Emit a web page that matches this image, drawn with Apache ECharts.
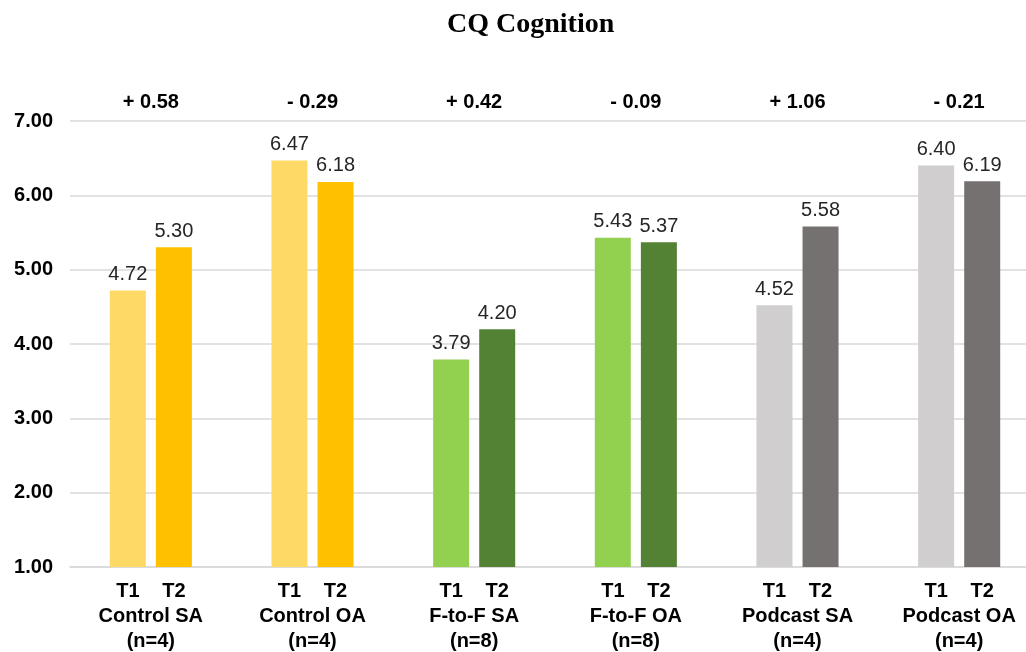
<!DOCTYPE html>
<html>
<head>
<meta charset="utf-8">
<script src="https://cdn.jsdelivr.net/npm/echarts@6/dist/echarts.min.js"></script>
<style>
  html, body { margin: 0; padding: 0; background: #fff; }
  #chart { width: 1026px; height: 652px; }
</style>
</head>
<body>
<div id="chart"></div>
<script>
// Groups shown along the category axis
const groups = ['Control SA', 'Control OA', 'F-to-F SA', 'F-to-F OA', 'Podcast SA', 'Podcast OA'];
const sampleSizes = ['(n=4)', '(n=4)', '(n=8)', '(n=8)', '(n=4)', '(n=4)'];
// Mean scores at the two time points
const t1Values = [4.72, 6.47, 3.79, 5.43, 4.52, 6.40];
const t2Values = [5.30, 6.18, 4.20, 5.37, 5.58, 6.19];
// Change from T1 to T2 printed above each group
const changeLabels = ['+ 0.58', '- 0.29', '+ 0.42', '- 0.09', '+ 1.06', '- 0.21'];
// Bar colours per group
const t1Colors = ['#FFD966', '#FFD966', '#92D050', '#92D050', '#D0CECE', '#D0CECE'];
const t2Colors = ['#FFC000', '#FFC000', '#548235', '#548235', '#767171', '#767171'];
// Value axis range
const yMin = 1, yMax = 7, yStep = 1;

const FONT = 'Liberation Sans, Arial, sans-serif';

const chart = echarts.init(document.getElementById('chart'));

const valueLabel = {
  show: true,
  position: 'top',
  distance: 6,
  fontFamily: FONT,
  fontSize: 20,
  color: '#262626',
  formatter: p => p.value.toFixed(2)
};

chart.setOption({
  animation: false,
  backgroundColor: '#ffffff',
  title: {
    text: 'CQ Cognition',
    left: 442,
    top: 6,
    textStyle: { fontFamily: 'Liberation Serif, Times New Roman, serif', fontWeight: 'bold', fontSize: 28, color: '#000' }
  },
  // the last group runs a little past the right edge of the canvas
  grid: { left: 70, width: 970, top: 121, height: 446, outerBoundsMode: 'none' },
  xAxis: [
    {
      type: 'category',
      data: groups,
      position: 'bottom',
      axisLine: { lineStyle: { color: '#d9d9d9', width: 1.5 } },
      axisTick: { show: false },
      axisLabel: {
        margin: 12,
        interval: 0,
        fontFamily: FONT,
        fontSize: 20,
        fontWeight: 'bold',
        color: '#000',
        lineHeight: 25,
        formatter: (v, i) => '{t|T1}{t|T2}\n{g|' + v + '}\n{g|' + sampleSizes[i] + '}',
        rich: {
          t: { width: 46, align: 'center', fontFamily: FONT, fontSize: 20, fontWeight: 'bold', color: '#000', lineHeight: 25 },
          g: { fontFamily: FONT, fontSize: 20, fontWeight: 'bold', color: '#000', lineHeight: 25 }
        }
      }
    },
    {
      type: 'category',
      data: groups,
      position: 'top',
      axisLine: { show: false },
      axisTick: { show: false },
      axisLabel: {
        margin: 9,
        interval: 0,
        fontFamily: FONT,
        fontSize: 20,
        fontWeight: 'bold',
        color: '#000',
        formatter: (v, i) => changeLabels[i]
      }
    }
  ],
  yAxis: {
    type: 'value',
    min: yMin,
    max: yMax,
    interval: yStep,
    axisLine: { show: false },
    axisTick: { show: false },
    splitLine: { lineStyle: { color: '#d9d9d9', width: 1.5 } },
    axisLabel: {
      margin: 17,
      fontFamily: FONT,
      fontSize: 20,
      fontWeight: 'bold',
      color: '#000',
      formatter: v => v.toFixed(2)
    }
  },
  series: [
    {
      name: 'T1',
      type: 'bar',
      xAxisIndex: 0,
      barWidth: 36,
      barGap: '28%',
      data: t1Values.map((v, i) => ({ value: v, itemStyle: { color: t1Colors[i] } })),
      label: valueLabel
    },
    {
      name: 'T2',
      type: 'bar',
      xAxisIndex: 0,
      barWidth: 36,
      barGap: '28%',
      data: t2Values.map((v, i) => ({ value: v, itemStyle: { color: t2Colors[i] } })),
      label: valueLabel
    }
  ]
});
</script>
</body>
</html>
